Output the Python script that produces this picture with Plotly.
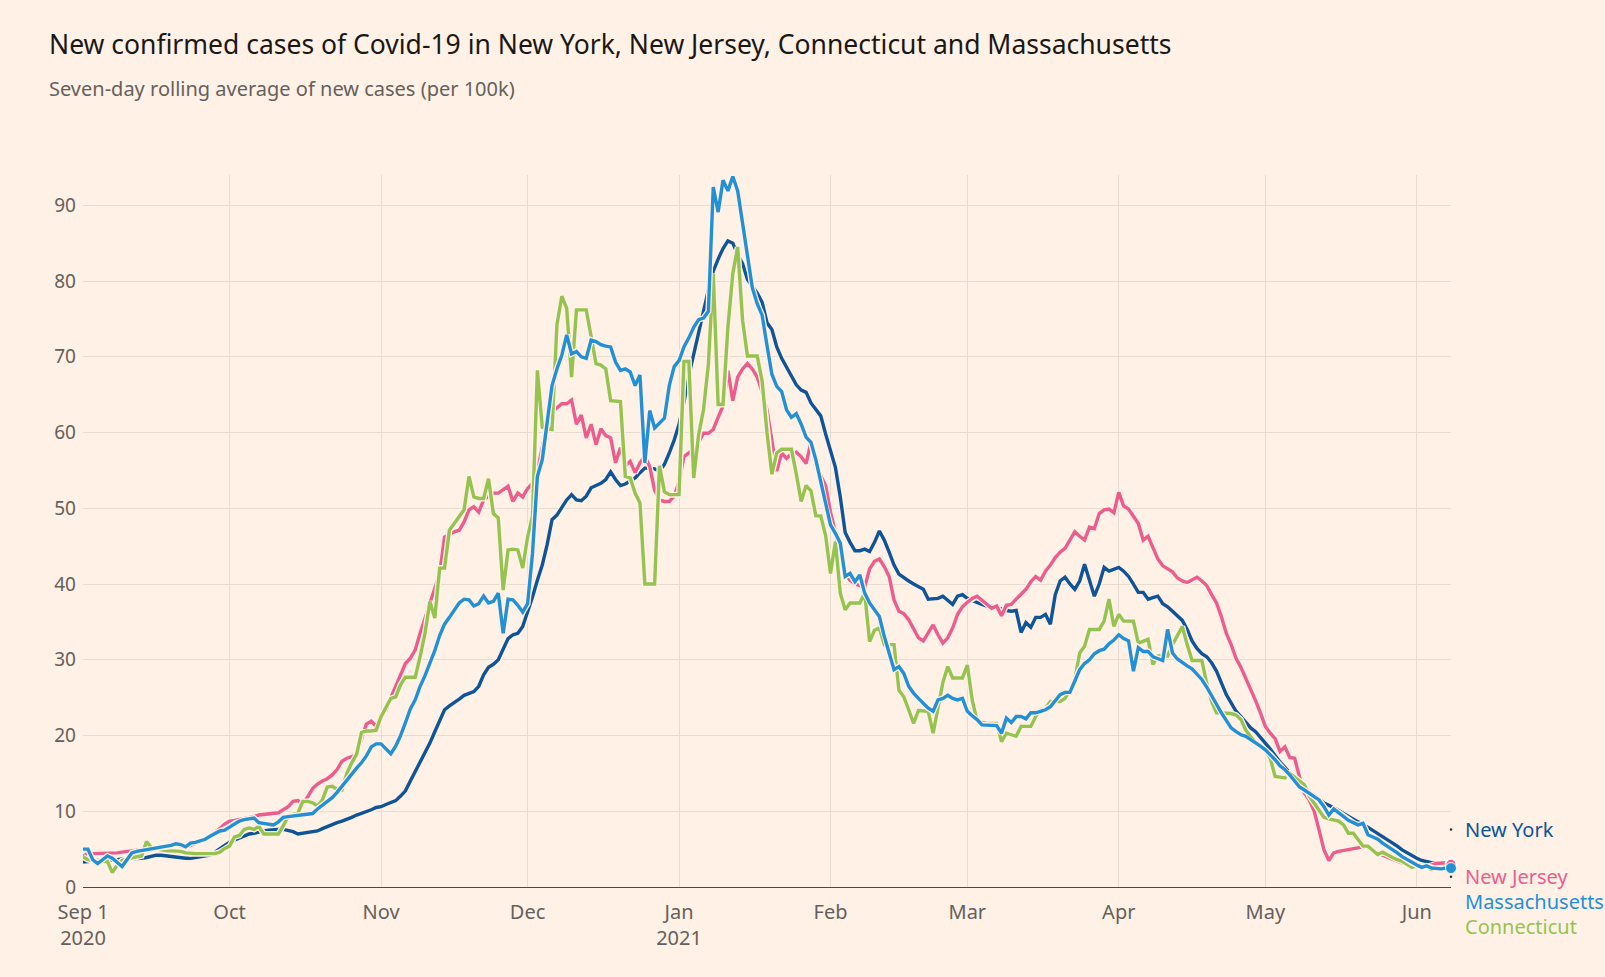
import pandas as pd
import plotly.graph_objects as go

# ---------------- data (seven-day rolling average of new cases per 100k) ----------------
start_date = "2020-09-01"
n_days = 281

new_york = [
    3.3, 3.4, 3.4, 3.5, 3.5, 3.5, 3.6, 3.6, 3.7, 3.7,
    3.7, 3.8, 3.8, 3.9, 4.1, 4.2, 4.2, 4.1, 4.0, 4.0,
    3.9, 3.8, 3.8, 3.9, 3.9, 4.0, 4.2, 4.6, 5.1, 5.5,
    5.9, 6.2, 6.5, 6.8, 7.0, 7.1, 7.3, 7.4, 7.5, 7.6,
    7.6, 7.6, 7.5, 7.3, 7.0, 7.1, 7.2, 7.3, 7.4, 7.7,
    8.0, 8.2, 8.5, 8.7, 8.9, 9.2, 9.5, 9.7, 10.0, 10.2,
    10.5, 10.6, 10.9, 11.1, 11.4, 12.0, 12.7, 14.0, 15.2, 16.4,
    17.6, 19.0, 20.5, 22.0, 23.4, 23.9, 24.3, 24.8, 25.3, 25.6,
    25.8, 26.5, 28.0, 29.0, 29.4, 30.0, 31.3, 32.8, 33.3, 33.5,
    34.4, 36.2, 38.3, 40.5, 42.5, 45.2, 48.5, 49.1, 50.2, 51.1,
    51.8, 51.1, 51.0, 51.6, 52.7, 53.0, 53.3, 53.8, 54.8, 53.8,
    53.0, 53.2, 53.6, 54.0, 54.7, 55.3, 55.3, 55.2, 54.9, 55.8,
    57.3, 59.0, 61.1, 64.0, 67.5, 70.5, 73.3, 76.0, 78.8, 81.3,
    82.9, 84.3, 85.3, 85.0, 83.5, 82.3, 80.2, 79.3, 78.4, 77.2,
    74.5, 73.6, 71.3, 69.8, 68.6, 67.6, 66.3, 65.6, 65.3, 63.9,
    63.0, 62.2, 59.8, 57.5, 55.4, 51.5, 46.8, 45.5, 44.4, 44.4,
    44.6, 44.3, 45.5, 47.0, 45.8, 44.2, 42.5, 41.3, 40.8, 40.4,
    40.0, 39.7, 39.3, 38.0, 38.1, 38.1, 38.4, 37.8, 37.3, 38.4,
    38.6, 38.1, 37.8, 37.5, 37.3, 37.1, 37.0, 36.9, 36.7, 36.5,
    36.4, 36.5, 33.6, 34.9, 34.3, 35.6, 35.6, 36.0, 34.7, 38.6,
    40.4, 40.9, 40.0, 39.3, 40.4, 42.6, 40.6, 38.4, 40.0, 42.2,
    41.7, 41.9, 42.2, 41.7, 41.0, 40.0, 38.9, 38.9, 38.0, 38.2,
    38.4, 37.4, 37.0, 36.4, 35.8, 35.2, 34.0, 32.5, 31.5, 30.8,
    30.4, 29.6, 28.5, 27.0, 25.4, 24.3, 23.2, 22.5, 21.7, 21.0,
    20.5, 19.8, 19.0, 18.2, 17.3, 16.5, 15.8, 15.0, 14.3, 13.6,
    13.0, 12.5, 12.1, 11.6, 11.1, 10.8, 10.5, 10.1, 9.7, 9.3,
    8.9, 8.6, 8.3, 7.9, 7.4, 7.0, 6.7, 6.3, 5.9, 5.4,
    4.9, 4.5, 4.1, 3.8, 3.5, 3.3, 3.2, 3.1, 3.1, 3.0,
    3.0,
]

new_jersey = [
    4.0, 4.5, 4.4, 4.4, 4.4, 4.4, 4.5, 4.5, 4.6, 4.7,
    4.8, 4.9, 5.0, 5.1, 5.2, 5.2, 5.2, 5.3, 5.4, 5.4,
    5.4, 5.3, 5.5, 5.8, 6.0, 6.3, 6.8, 7.2, 7.7, 8.3,
    8.7, 8.8, 8.9, 9.0, 9.1, 9.3, 9.5, 9.6, 9.7, 9.8,
    9.8, 10.2, 10.6, 11.3, 11.4, 11.0, 11.9, 13.0, 13.6, 14.0,
    14.3, 14.8, 15.5, 16.6, 17.0, 17.2, 17.5, 19.5, 21.5, 21.9,
    21.2, 22.5, 23.3, 25.0, 26.5, 28.0, 29.5, 30.2, 31.3, 33.5,
    35.5, 37.4, 39.5, 41.4, 46.2, 46.6, 46.9, 47.1, 48.2, 49.8,
    50.2, 49.5, 51.1, 51.6, 52.0, 52.0, 52.5, 52.9, 50.9, 52.0,
    51.5, 52.6, 53.3, 55.0, 58.0, 61.0, 62.7, 63.3, 63.8, 63.8,
    64.3, 61.1, 62.3, 59.3, 61.1, 58.4, 60.5, 59.6, 59.3, 56.0,
    58.0, 55.6, 56.2, 54.7, 56.0, 56.9, 55.5, 52.4, 51.1, 50.9,
    50.9, 51.6, 53.5, 56.8, 57.3, 57.8, 58.7, 59.9, 59.9, 60.4,
    62.0, 63.5, 68.2, 64.2, 67.3, 68.4, 69.1, 68.4, 67.3, 65.4,
    63.0, 59.2, 54.9, 57.3, 56.6, 57.2, 57.4, 56.8, 55.9, 58.7,
    55.4, 54.3, 53.0, 49.5, 46.7, 44.0, 41.4, 40.5, 40.0, 39.8,
    39.6, 42.0, 43.0, 43.3, 42.3, 41.0, 37.9, 36.4, 36.1, 35.3,
    34.2, 32.9, 32.5, 33.5, 34.6, 33.3, 32.2, 32.9, 34.2, 36.0,
    37.0, 37.6, 38.1, 38.4, 37.9, 37.4, 36.8, 37.1, 35.8, 37.2,
    37.3, 38.0, 38.6, 39.3, 40.3, 41.0, 40.5, 41.7, 42.5, 43.5,
    44.2, 44.7, 45.8, 46.9, 46.3, 45.8, 47.5, 47.3, 49.3, 49.8,
    49.9, 49.4, 52.1, 50.3, 49.9, 49.0, 48.0, 45.8, 46.3, 44.8,
    43.3, 42.4, 42.0, 41.6, 40.8, 40.4, 40.2, 40.6, 40.9, 40.4,
    39.8, 38.6, 37.5, 35.7, 33.5, 32.0, 30.2, 29.0, 27.6, 26.0,
    24.6, 23.0, 21.2, 20.3, 19.6, 17.9, 18.5, 17.1, 17.0, 14.5,
    12.4, 11.5, 10.0, 7.5, 4.9, 3.5, 4.5, 4.7, 4.8, 4.9,
    5.0, 5.2, 5.3, 5.2, 4.8, 4.5, 4.2, 3.9, 3.6, 3.4,
    3.2, 3.0, 2.8, 2.7, 2.6, 2.7, 2.9, 3.1, 3.2, 3.2,
    3.0,
]

connecticut = [
    4.0, 3.6, 3.5, 3.3, 3.4, 3.4, 1.9, 2.9, 3.5, 3.7,
    3.8, 4.0, 4.1, 6.0, 5.2, 5.0, 4.9, 4.8, 4.8, 4.7,
    4.7, 4.5, 4.4, 4.4, 4.4, 4.4, 4.3, 4.4, 4.6, 5.1,
    5.4, 6.6, 6.8, 7.6, 7.8, 7.6, 8.0, 7.0, 7.0, 7.0,
    7.0, 8.1, 9.3, 9.6, 9.8, 11.3, 11.3, 11.1, 10.7, 11.5,
    13.2, 13.3, 12.9, 12.8, 15.0, 16.4, 17.5, 20.4, 20.6, 20.6,
    20.7, 22.5, 23.8, 24.9, 25.1, 26.7, 27.7, 27.7, 27.7, 30.4,
    33.5, 37.7, 35.5, 42.1, 42.1, 47.1, 48.0, 48.9, 49.8, 54.2,
    51.5, 51.3, 51.3, 53.9, 49.3, 48.7, 39.2, 44.5, 44.6, 44.5,
    42.1, 46.2, 49.0, 68.2, 60.7, 60.5, 60.4, 74.2, 78.0, 76.4,
    67.3, 76.2, 76.2, 76.2, 72.7, 69.1, 68.9, 68.4, 64.2, 64.1,
    64.1, 54.2, 54.0, 52.0, 50.7, 40.0, 40.0, 40.0, 55.6, 52.2,
    51.8, 51.8, 51.8, 69.4, 69.4, 54.0, 59.7, 63.0, 69.0, 81.0,
    63.7, 63.7, 73.9, 81.0, 84.5, 74.8, 70.1, 70.1, 70.1, 66.8,
    60.0, 54.5, 57.3, 57.8, 57.8, 57.8, 54.5, 50.9, 53.0, 52.3,
    49.0, 49.0, 46.4, 41.4, 45.6, 38.8, 36.6, 37.5, 37.5, 37.5,
    38.8, 32.4, 33.9, 34.2, 32.0, 32.0, 32.0, 26.0, 25.1, 23.4,
    21.6, 23.3, 23.3, 23.2, 20.3, 23.5, 27.0, 29.1, 27.6, 27.6,
    27.6, 29.3, 24.7, 21.9, 21.7, 21.6, 21.6, 21.6, 19.2, 20.3,
    20.1, 19.9, 21.2, 21.2, 21.2, 22.5, 23.4, 23.6, 24.5, 24.5,
    24.5, 24.9, 26.0, 27.4, 30.9, 31.8, 34.0, 34.0, 34.0, 35.1,
    38.0, 34.4, 36.0, 35.1, 35.1, 35.1, 32.2, 32.5, 32.7, 29.4,
    30.5, 30.5, 30.5, 32.0, 33.2, 34.4, 32.0, 29.9, 29.9, 29.9,
    26.9, 24.5, 23.0, 23.0, 23.0, 22.9, 22.7, 22.1, 20.7, 19.9,
    19.0, 18.5, 18.0, 17.0, 14.6, 14.5, 14.4, 15.0, 14.5, 14.0,
    13.5, 12.0, 11.0, 10.0, 9.2, 9.0, 8.9, 8.7, 8.2, 7.1,
    7.1, 6.3, 5.4, 5.4, 4.8, 4.3, 4.6, 4.2, 3.9, 3.6,
    3.4, 3.0, 2.6, 2.8, 2.7, 2.6, 2.3, 2.4, 2.4, 2.4,
    2.4,
]

massachusetts = [
    5.0, 5.0, 3.6, 3.1, 3.6, 4.1, 3.8, 3.2, 2.7, 3.6,
    4.5, 4.7, 4.8, 5.0, 5.0, 5.2, 5.3, 5.4, 5.5, 5.7,
    5.6, 5.3, 5.8, 5.9, 6.1, 6.3, 6.7, 7.1, 7.4, 7.5,
    7.9, 8.4, 8.7, 8.9, 9.0, 9.1, 8.5, 8.4, 8.4, 8.2,
    8.6, 9.2, 9.3, 9.4, 9.5, 9.6, 9.7, 9.7, 10.3, 10.8,
    11.2, 11.8, 12.5, 13.3, 14.2, 15.0, 15.7, 16.4, 17.3, 18.5,
    18.9, 18.9, 18.3, 17.6, 18.6, 20.0, 21.7, 23.5, 24.7, 26.5,
    27.9, 29.5, 31.2, 33.2, 34.7, 35.6, 36.6, 37.5, 38.0, 37.9,
    37.1, 37.4, 38.4, 37.5, 37.7, 38.8, 33.5, 38.0, 37.9, 37.2,
    36.3, 37.4, 44.0, 54.2, 56.4, 61.3, 66.2, 68.4, 70.2, 72.9,
    70.4, 70.7, 70.0, 69.8, 72.2, 72.0, 71.6, 71.4, 71.3, 69.3,
    68.2, 68.4, 68.0, 66.2, 67.6, 56.0, 62.9, 60.6, 61.3, 61.9,
    66.2, 68.7, 69.5, 71.3, 72.5, 73.9, 74.9, 75.1, 76.0, 92.4,
    89.1, 93.3, 91.9, 93.8, 91.9, 87.6, 82.9, 79.1, 77.0, 75.5,
    71.5, 67.7, 66.1, 65.4, 63.0, 62.0, 62.5, 61.1, 59.4, 58.7,
    56.4, 53.5, 50.2, 47.8, 46.7, 45.4, 41.0, 41.4, 40.3, 41.2,
    38.8, 37.5, 36.6, 35.7, 33.1, 30.9, 28.7, 29.1, 28.2, 26.5,
    25.6, 24.9, 24.3, 23.6, 23.2, 24.7, 24.9, 25.3, 24.9, 24.7,
    24.9, 23.2, 22.6, 22.1, 21.4, 21.4, 21.3, 21.3, 20.3, 22.3,
    21.7, 22.5, 22.5, 22.2, 23.0, 23.0, 23.2, 23.4, 23.8, 24.6,
    25.4, 25.7, 25.7, 27.2, 28.7, 29.5, 30.0, 30.8, 31.2, 31.4,
    32.1, 32.6, 33.3, 32.8, 32.5, 28.5, 31.6, 31.1, 31.1, 30.4,
    30.2, 29.9, 34.0, 30.9, 30.1, 29.6, 29.2, 28.8, 28.1, 27.4,
    26.4, 25.2, 24.2, 23.0, 22.0, 21.0, 20.5, 20.1, 19.9, 19.5,
    19.1, 18.6, 18.1, 17.5, 16.8, 16.0, 15.5, 14.8, 14.0, 13.2,
    12.8, 12.4, 12.0, 11.5, 10.6, 9.5, 10.3, 9.8, 9.3, 8.8,
    8.5, 8.2, 8.4, 6.9, 6.6, 6.3, 5.8, 5.4, 4.9, 4.5,
    4.0, 3.6, 3.2, 2.9, 2.6, 2.8, 2.5, 2.4, 2.4, 2.5,
    2.5,
]

tick_dates = ["2020-09-01", "2020-10-01", "2020-11-01", "2020-12-01", "2021-01-01",
              "2021-02-01", "2021-03-01", "2021-04-01", "2021-05-01", "2021-06-01"]
tick_labels = ["Sep 1<br>2020", "Oct", "Nov", "Dec", "Jan<br>2021",
               "Feb", "Mar", "Apr", "May", "Jun"]
y_ticks = [0, 10, 20, 30, 40, 50, 60, 70, 80, 90]

# end-of-line labels and their vertical positions (in y units)
label_names = ["New York", "New Jersey", "Massachusetts", "Connecticut"]
label_y = [7.6, 1.35, -1.95, -5.15]

# ---------------- styling ----------------
BG = "#fff1e5"
GRID = "#e8dcd1"
TEXT_GREY = "#66605c"
FONT = "Noto Sans"
Y_MAX = 94
colors = {
    "New York": "#0f5499",
    "New Jersey": "#ec5d8e",
    "Massachusetts": "#2390d6",
    "Connecticut": "#96c350",
}

dates = pd.date_range(start_date, periods=n_days, freq="D")
series = {
    "New York": new_york,
    "New Jersey": new_jersey,
    "Connecticut": connecticut,
    "Massachusetts": massachusetts,
}

fig = go.Figure()
for name, vals in series.items():
    assert len(vals) == n_days, (name, len(vals))
    # halo in background colour so lines appear cut where they cross
    fig.add_trace(go.Scatter(x=dates, y=vals, mode="lines",
                             line=dict(color=BG, width=6),
                             hoverinfo="skip", showlegend=False))
    fig.add_trace(go.Scatter(x=dates, y=vals, mode="lines", name=name,
                             line=dict(color=colors[name], width=3.4),
                             showlegend=False))

# end markers
fig.add_trace(go.Scatter(x=[dates[-1]], y=[new_jersey[-1]], mode="markers",
                         marker=dict(size=11, color=colors["New Jersey"],
                                     line=dict(color="white", width=2)),
                         showlegend=False, cliponaxis=False, hoverinfo="skip"))
fig.add_trace(go.Scatter(x=[dates[-1]], y=[massachusetts[-1]], mode="markers",
                         marker=dict(size=11, color=colors["Massachusetts"],
                                     line=dict(color=BG, width=1)),
                         showlegend=False, cliponaxis=False, hoverinfo="skip"))
# tiny leader dots next to the labels
fig.add_trace(go.Scatter(x=[dates[-1]] * 4, y=label_y, mode="markers",
                         marker=dict(size=2.5, color="#33302e"),
                         showlegend=False, cliponaxis=False, hoverinfo="skip"))

for name, yv in zip(label_names, label_y):
    fig.add_annotation(x=1, y=yv / Y_MAX, xref="paper", yref="paper", text=name,
                       showarrow=False, xanchor="left", yanchor="middle",
                       xshift=12, font=dict(family=FONT, size=20, color=colors[name]))

fig.add_annotation(xref="paper", yref="paper", x=-0.0265, y=1.184,
                   text="New confirmed cases of Covid-19 in New York, New Jersey, Connecticut and Massachusetts",
                   showarrow=False, xanchor="left", yanchor="middle",
                   font=dict(family=FONT, size=26.5, color="#1a1817"))
fig.add_annotation(xref="paper", yref="paper", x=-0.0265, y=1.1208,
                   text="Seven-day rolling average of new cases (per 100k)",
                   showarrow=False, xanchor="left", yanchor="middle",
                   font=dict(family=FONT, size=20, color=TEXT_GREY))

fig.update_layout(
    width=1605, height=977,
    paper_bgcolor=BG, plot_bgcolor=BG,
    margin=dict(l=83, r=154, t=175, b=90),
    font=dict(family=FONT, size=20, color=TEXT_GREY),
    hovermode="x",
)
fig.update_xaxes(
    type="date", range=[dates[0], dates[-1]],
    tickvals=tick_dates, ticktext=tick_labels,
    showgrid=True, gridcolor=GRID, gridwidth=1,
    showline=True, linecolor="#4d4845", linewidth=1,
    ticks="", ticklabelstandoff=7,
    tickfont=dict(family=FONT, size=20, color=TEXT_GREY),
    zeroline=False,
)
fig.update_yaxes(
    range=[0, Y_MAX], tickvals=y_ticks,
    showgrid=True, gridcolor=GRID, gridwidth=1,
    showline=False, zeroline=False, ticks="", ticklabelstandoff=6,
    tickfont=dict(family=FONT, size=19, color=TEXT_GREY),
)

fig.write_html(
    "out.html",
    config={"displayModeBar": False},
    post_script="document.body.style.margin='0';document.body.style.padding='0';"
                "document.body.style.background='" + BG + "';",
)
